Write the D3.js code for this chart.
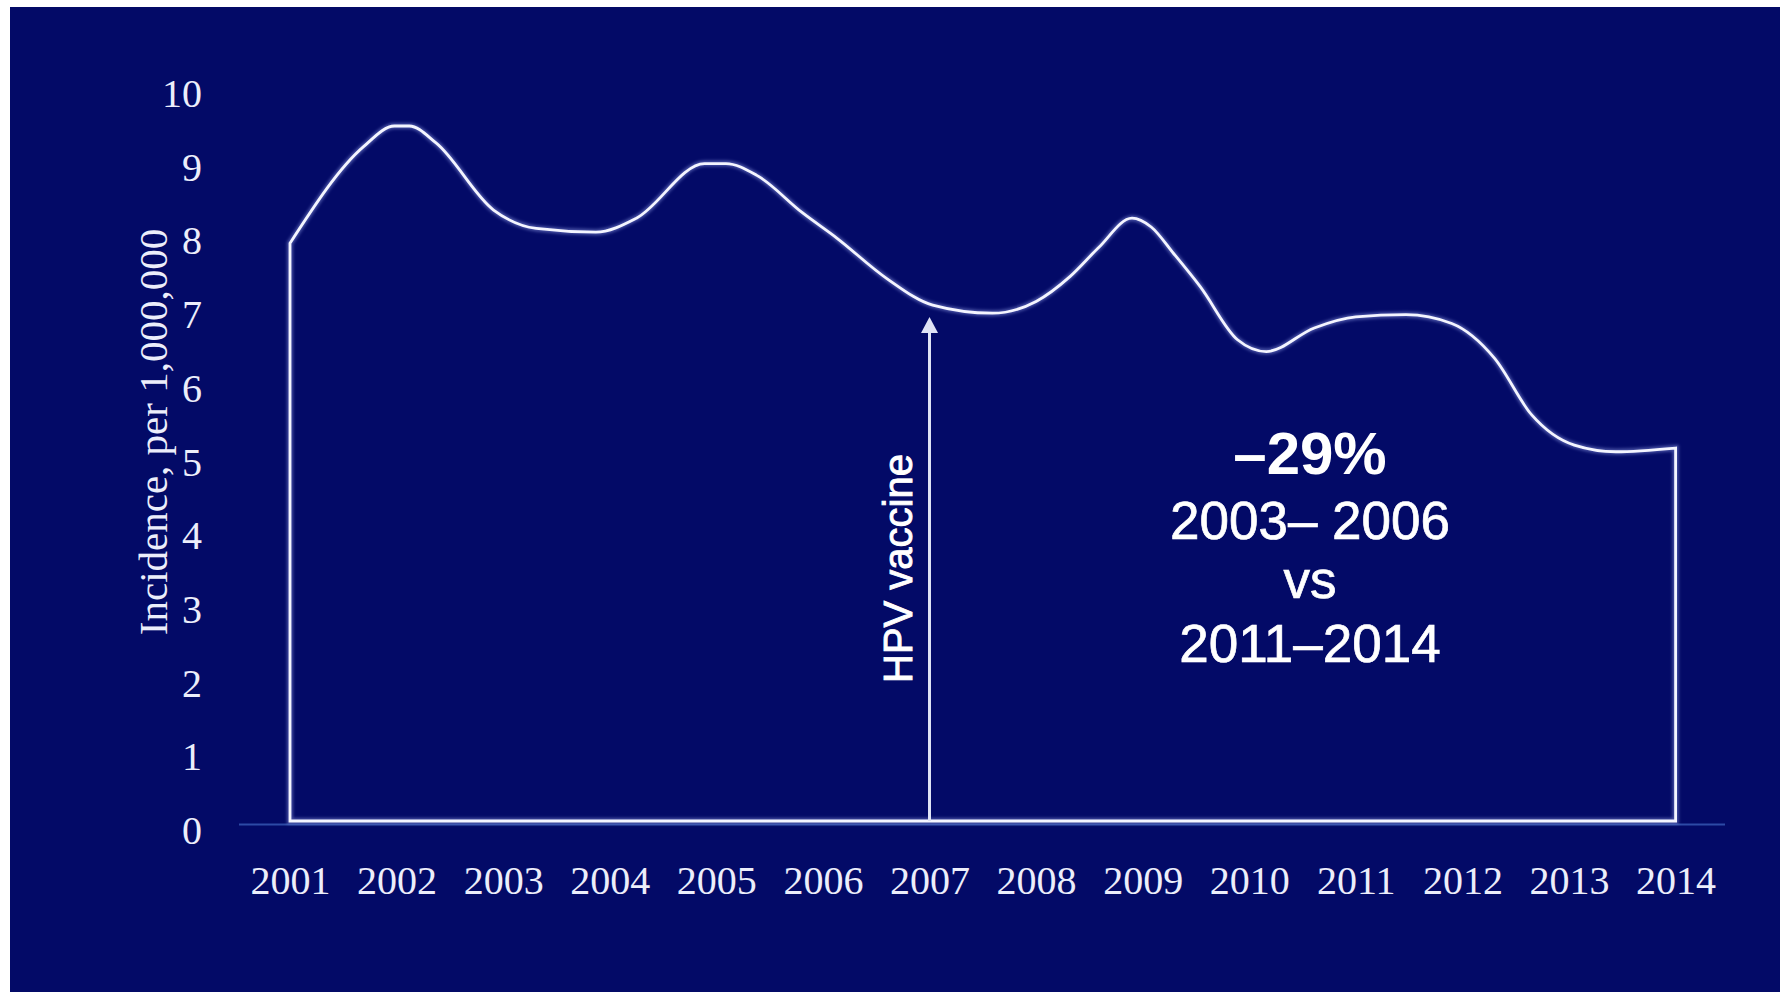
<!DOCTYPE html>
<html>
<head>
<meta charset="utf-8">
<script src="https://cdn.jsdelivr.net/npm/d3@7"></script>
<style>
  html, body { margin: 0; padding: 0; background: #ffffff; }
  svg { display: block; }
</style>
</head>
<body>
<svg id="chart" width="1780" height="992"></svg>
<script>
// Year tick labels along the bottom
const yearTicks = [2001, 2002, 2003, 2004, 2005, 2006, 2007, 2008, 2009, 2010, 2011, 2012, 2013, 2014];
// Incidence tick values on the left axis
const incidenceTicks = [0, 1, 2, 3, 4, 5, 6, 7, 8, 9, 10];

// Smoothed incidence trend: sample positions (fractional year) and rates per 1,000,000
const sampleYears = [
  2001.00, 2001.69, 2001.98, 2002.12, 2002.37, 2002.91, 2003.31, 2003.87,
  2004.25, 2004.89, 2005.09, 2005.38, 2005.81, 2006.13, 2006.60, 2007.03,
  2007.59, 2008.00, 2008.32, 2008.58, 2008.90, 2009.08, 2009.29, 2009.54,
  2009.89, 2010.16, 2010.61, 2011.00, 2011.47, 2011.90, 2012.30, 2012.65,
  2013.05, 2013.44, 2014.00
];
const incidence = [
  7.84, 9.15, 9.43, 9.43, 9.20, 8.29, 8.04, 7.99,
  8.18, 8.92, 8.92, 8.76, 8.25, 7.91, 7.36, 7.00,
  6.89, 7.05, 7.39, 7.77, 8.18, 8.06, 7.70, 7.25,
  6.53, 6.37, 6.69, 6.84, 6.87, 6.75, 6.28, 5.51,
  5.10, 5.01, 5.06
];

// Vaccine introduction marker
const vaccineYear = 2007;
const vaccineArrowTop = 6.84;

// Text
const yAxisTitle = "Incidence, per 1,000,000";
const vaccineLabel = "HPV vaccine";
const changeLabel = "\u201329%";
const periodLines = ["2003\u2013 2006", "vs", "2011\u20132014"];

const W = 1780, H = 992;
const BG = "#030a67";
const INK = "#eceefb";
const SERIF = "'Liberation Serif', 'Times New Roman', Times, serif";
const SANS = "'Liberation Sans', Arial, Helvetica, sans-serif";

const svg = d3.select("#chart");

// Slide background (white margin on top and left edges)
svg.append("rect").attr("x", 0).attr("y", 0).attr("width", W).attr("height", H).attr("fill", "#ffffff");
svg.append("rect").attr("x", 10).attr("y", 7).attr("width", W - 10).attr("height", H - 7).attr("fill", BG);

const x = d3.scaleLinear().domain([2001, 2014]).range([290, 1675.6]);
const y = d3.scaleLinear().domain([0, 10]).range([821, 84]);

const defs = svg.append("defs");
const glow = defs.append("filter").attr("id", "glow")
  .attr("x", "-5%").attr("y", "-5%").attr("width", "110%").attr("height", "110%");
glow.append("feGaussianBlur").attr("stdDeviation", 1.6);

// Horizontal axis rule
svg.append("line")
  .attr("x1", 239).attr("x2", 1725)
  .attr("y1", y(0) + 3.5).attr("y2", y(0) + 3.5)
  .attr("stroke", "#2d4aa6").attr("stroke-width", 2.2);

// Outline of the incidence region: left edge, trend curve, right edge, baseline
const points = sampleYears.map((t, i) => [t, incidence[i]]);
const curve = d3.line()
  .x(d => x(d[0]))
  .y(d => y(d[1]))
  .curve(d3.curveMonotoneX);
const curvePath = curve(points);
const outline = `M${x(sampleYears[0])},${y(0)}L` + curvePath.slice(1) +
  `L${x(sampleYears[sampleYears.length - 1])},${y(0)}Z`;

svg.append("path")
  .attr("d", outline)
  .attr("fill", "none")
  .attr("stroke", "#9aa6ee")
  .attr("stroke-width", 6)
  .attr("stroke-opacity", 0.45)
  .attr("stroke-linejoin", "miter")
  .attr("filter", "url(#glow)");
svg.append("path")
  .attr("d", outline)
  .attr("fill", "none")
  .attr("stroke", "#f4f5ff")
  .attr("stroke-width", 2.8)
  .attr("stroke-linejoin", "miter");

// Vaccine arrow
const ax = x(vaccineYear);
const tipY = y(vaccineArrowTop);
svg.append("line")
  .attr("x1", ax).attr("x2", ax)
  .attr("y1", y(0)).attr("y2", tipY + 12)
  .attr("stroke", "#dfe3f6").attr("stroke-width", 3);
svg.append("path")
  .attr("d", `M${ax},${tipY}L${ax + 8.5},${tipY + 16}L${ax - 8.5},${tipY + 16}Z`)
  .attr("fill", "#dfe3f6");

// Left axis labels
const yAxis = svg.append("g")
  .attr("transform", "translate(202,0)")
  .call(d3.axisLeft(y).tickValues(incidenceTicks).tickSize(0).tickPadding(0).tickFormat(d3.format("d")));
yAxis.select(".domain").remove();
yAxis.selectAll("text")
  .attr("dy", 22.5)
  .attr("fill", INK)
  .style("font-family", SERIF)
  .style("font-size", "40px");

// Bottom axis labels
const xAxis = svg.append("g")
  .attr("transform", "translate(0,893.5)")
  .call(d3.axisBottom(x).tickValues(yearTicks).tickSize(0).tickPadding(0).tickFormat(d3.format("d")));
xAxis.select(".domain").remove();
xAxis.selectAll("text")
  .attr("y", 0)
  .attr("dy", 0)
  .attr("fill", INK)
  .style("font-family", SERIF)
  .style("font-size", "40px");

// Axis title
svg.append("text")
  .attr("transform", "translate(167,432) rotate(-90)")
  .attr("text-anchor", "middle")
  .attr("fill", INK)
  .style("font-family", SERIF)
  .style("font-size", "41px")
  .text(yAxisTitle);

// Vaccine label
svg.append("text")
  .attr("transform", `translate(${ax - 18},568.5) rotate(-90)`)
  .attr("text-anchor", "middle")
  .attr("fill", "#ffffff")
  .attr("stroke", "#ffffff")
  .attr("stroke-width", 0.9)
  .style("font-family", SANS)
  .style("font-size", "40px")
  .text(vaccineLabel);

// Change annotation
const noteX = 1310;
svg.append("text")
  .attr("x", noteX).attr("y", 474)
  .attr("text-anchor", "middle")
  .attr("fill", "#ffffff")
  .style("font-family", SANS)
  .style("font-weight", "bold")
  .style("font-size", "60px")
  .text(changeLabel);
const lineBaselines = [539, 598, 662];
periodLines.forEach((t, i) => {
  svg.append("text")
    .attr("x", noteX).attr("y", lineBaselines[i])
    .attr("text-anchor", "middle")
    .attr("fill", "#ffffff")
    .attr("stroke", "#ffffff")
    .attr("stroke-width", 0.7)
    .style("font-family", SANS)
    .style("font-size", "53px")
    .text(t);
});
</script>
</body>
</html>
